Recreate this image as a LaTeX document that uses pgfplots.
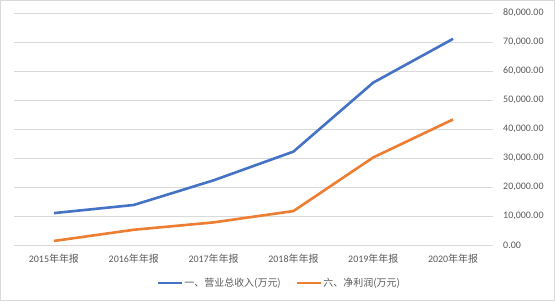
\documentclass[border=0pt]{standalone}
\usepackage{pgfplots}
\pgfplotsset{compat=1.18}
\usepackage{fontspec}
\setmainfont{Carlito}
\newfontfamily\cjk{Noto Sans CJK SC}
\definecolor{blueS}{HTML}{4472C4}
\definecolor{orangeS}{HTML}{ED7D31}
\definecolor{txt}{HTML}{595959}
\definecolor{gridc}{HTML}{D9D9D9}
\begin{document}
\begin{tikzpicture}[x=1bp,y=1bp]
\useasboundingbox (0,0) rectangle (555,301);
\draw[gridc, line width=0.75bp] (0.5,0.5) rectangle (554.5,300.5);
\begin{axis}[
  at={(14bp,56bp)}, anchor=south west,
  scale only axis, width=479bp, height=232bp,
  xmin=-0.5, xmax=5.5, ymin=0, ymax=80000,
  xtick={0,...,5},
  xticklabels={2015{\cjk 年年报},2016{\cjk 年年报},2017{\cjk 年年报},2018{\cjk 年年报},2019{\cjk 年年报},2020{\cjk 年年报}},
  ytick={0,10000,...,80000},
  yticklabel pos=right,
  ymajorgrids, xmajorgrids=false,
  grid style={gridc, line width=0.75bp},
  axis line style={draw=none},
  major tick length=0,
  tick label style={font=\fontsize{10}{12}\selectfont, text=txt},
  yticklabel style={anchor=west, xshift=6.7bp},
  xticklabel style={yshift=-6bp},
  scaled y ticks=false,
  y tick label style={/pgf/number format/.cd, fixed, fixed zerofill, precision=2, 1000 sep={,}, assume math mode=true},
  legend style={at={(0.553,-0.164)}, anchor=center, draw=none, fill=none,
    legend columns=2, font=\fontsize{10}{12}\selectfont, text=txt,
    nodes={inner sep=1bp},
    /tikz/every even column/.append style={column sep=14bp}},
  legend cell align=left,
  legend image code/.code={\draw[#1, line width=2.6bp] (0bp,0bp) -- (24bp,0bp);},
]
\addplot[blueS, line width=2.6bp, line join=round] coordinates {(0,11000) (1,13800) (2,22300) (3,32200) (4,56000) (5,71100)};
\addlegendentry{\cjk 一、营业总收入(万元)}
\addplot[orangeS, line width=2.6bp, line join=round] coordinates {(0,1400) (1,5250) (2,7800) (3,11700) (4,30200) (5,43300)};
\addlegendentry{\cjk 六、净利润(万元)}
\end{axis}
\end{tikzpicture}
\end{document}
